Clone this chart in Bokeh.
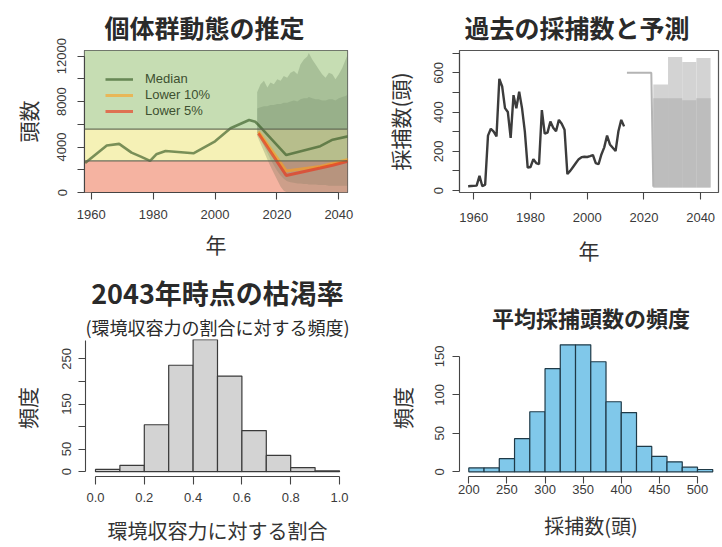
from bokeh.plotting import figure
from bokeh.models import Range1d, FixedTicker, BoxAnnotation, Span, Title, Legend, LegendItem
from bokeh.layouts import row, column
from bokeh.embed import file_html
from bokeh.resources import INLINE

# ---------------- data ----------------
# Population estimate (heads)
pop_years = [1958, 1965, 1969, 1973, 1976, 1979, 1981, 1984, 1993, 2000, 2005, 2011, 2013,
             2014, 2023, 2034, 2038, 2043]
pop_median = [2590, 4140, 4280, 3510, 3160, 2780, 3360, 3650, 3450, 4510, 5660, 6380, 6230,
              5950, 3300, 4080, 4650, 4940]
proj_years = [2014, 2023, 2034, 2038, 2043]
proj_low10 = [5370, 1900, 2300, 2550, 2900]
proj_low5 = [5200, 1500, 2150, 2400, 2750]
zone_limits = [0, 2790, 5580, 12500]

# Simulated trajectories: outer envelope and dense core
fan_years = [2013.6, 2014.7, 2015.8, 2016.9, 2017.9, 2019.0, 2020.1, 2021.2, 2022.2, 2023.3,
             2024.4, 2025.5, 2026.6, 2027.6, 2028.7, 2029.8, 2030.3, 2031.4, 2032.5, 2033.5,
             2034.6, 2035.7, 2036.8, 2037.9, 2038.9, 2040.0, 2041.1, 2042.2, 2042.8]
fan_high = [8820, 9540, 9830, 9250, 9680, 9540, 9970, 9830, 10260, 10110,
            10540, 10690, 10400, 11270, 11700, 11980, 12270, 11700, 11270, 10840,
            10400, 10110, 10540, 10400, 9970, 10400, 10970, 11700, 12130]
fan_low = [5000, 4300, 3600, 2900, 2300, 1700, 1100, 500, 150, 0,
           0, 0, 0, 0, 0, 0, 0, 0, 0, 0,
           0, 0, 0, 0, 0, 0, 0, 0, 0]
core_high = [7400, 7500, 7600, 7600, 7700, 7700, 7800, 7800, 7900, 7900,
             8000, 8100, 8000, 8200, 8300, 8300, 8400, 8300, 8200, 8200,
             8100, 8100, 8200, 8200, 8100, 8300, 8400, 8500, 8600]
core_low = [5300, 4700, 4100, 3500, 2900, 2400, 1900, 1500, 1200, 1000,
            900, 850, 800, 800, 750, 750, 700, 700, 700, 650,
            650, 650, 600, 600, 600, 600, 600, 600, 600]

# Catch history (heads)
catch_years = list(range(1958, 2014))
catch = [22, 23, 24, 25, 75, 22, 30, 280, 315, 300, 276, 569, 530, 420, 400, 268, 486, 419,
         503, 420, 300, 117, 120, 160, 140, 134, 410, 290, 295, 352, 320, 302, 360, 340, 310,
         84, 100, 120, 140, 160, 170, 172, 171, 175, 181, 140, 134, 184, 220, 280, 235, 218,
         201, 302, 360, 327]
quota_years = [2014, 2022.6, 2023.3]
quota = [600, 600, 20]
period_edges = [2023.3, 2028.5, 2033.5, 2038.5, 2043.5]
period_top = [540, 680, 655, 675]
period_core = [470, 470, 460, 470]
period_floor = [15, 15, 15, 15]

# Depletion in 2043 (fraction of carrying capacity)
dep_edges = [0.0, 0.1, 0.2, 0.3, 0.4, 0.5, 0.6, 0.7, 0.8, 0.9, 1.0]
dep_counts = [5, 14, 104, 236, 293, 212, 91, 36, 9, 2]

# Mean catch per simulation
mc_edges = [200, 220, 240, 260, 280, 300, 320, 340, 360, 380, 400, 420, 440, 460, 480, 500, 520]
mc_counts = [5, 5, 17, 43, 78, 134, 165, 165, 143, 91, 77, 33, 20, 13, 6, 3]

# ---------------- styling helpers ----------------
JP = "Noto Sans CJK JP"
NUM = "Liberation Sans"
AX = "#444444"


def make_fig(w, h, left, right, top, bottom, xr, yr):
    p = figure(width=w, height=h, x_range=Range1d(*xr), y_range=Range1d(*yr),
               output_backend="svg", toolbar_location=None,
               min_border_left=left, min_border_right=right,
               min_border_top=top, min_border_bottom=bottom)
    p.grid.visible = False
    p.background_fill_color = "white"
    p.border_fill_color = "white"
    p.outline_line_color = None
    return p


def style_axis(ax, ticks, bounds, tick_len, standoff, label, label_standoff,
               overrides=None, vertical=False, label_size="21px"):
    ax.ticker = FixedTicker(ticks=ticks)
    ax.bounds = bounds
    ax.minor_tick_line_color = None
    ax.major_tick_in = 0
    ax.major_tick_out = tick_len
    ax.axis_line_color = AX
    ax.axis_line_width = 1.1
    ax.major_tick_line_color = AX
    ax.major_tick_line_width = 1.1
    ax.major_label_text_font = NUM
    ax.major_label_text_font_size = "13px"
    ax.major_label_text_color = "#3a3a3a"
    ax.major_label_standoff = standoff
    if overrides:
        ax.major_label_overrides = overrides
    if vertical:
        ax.major_label_orientation = "vertical"
    ax.axis_label = label
    ax.axis_label_text_font = JP
    ax.axis_label_text_font_size = label_size
    ax.axis_label_text_font_style = "normal"
    ax.axis_label_text_color = "#333333"
    ax.axis_label_standoff = label_standoff


def add_title(p, text, size, standoff, align="center", offset=0, style="bold"):
    p.add_layout(Title(text=text, align=align, text_font=JP, text_font_size=size,
                       text_font_style=style, text_color="#2a2a2a",
                       standoff=standoff, offset=offset), "above")


# ---------------- panel 1: population ----------------
p1 = make_fig(361, 270, 84, 14, 49, 76, (1957.8, 2042.8), (0, 12500))
zone_colors = ["#f5b3a1", "#f5f1b6", "#c6ddb3"]
for lo, hi, c in zip(zone_limits[:-1], zone_limits[1:], zone_colors):
    p1.add_layout(BoxAnnotation(bottom=lo, top=hi, fill_color=c, fill_alpha=1.0,
                                line_color=None, level="underlay"))
p1.varea(x=fan_years, y1=fan_low, y2=fan_high, fill_color="#3f5a3a", fill_alpha=0.22)
p1.varea(x=fan_years, y1=core_low, y2=core_high, fill_color="#3f5a3a", fill_alpha=0.15)
for lim in zone_limits[1:3]:
    p1.add_layout(Span(location=lim, dimension="width", line_color="#5c6450",
                       line_width=1.3, line_alpha=0.9))
r_med = p1.line(pop_years, pop_median, line_color="#355a25", line_alpha=0.65, line_width=2.6)
r10 = p1.line(proj_years, proj_low10, line_color="#ff9f1a", line_alpha=0.6, line_width=3)
r5 = p1.line(proj_years, proj_low5, line_color="#ee2a10", line_alpha=0.6, line_width=3)
p1.outline_line_color = "#555555"
p1.outline_line_width = 1.2
legend = Legend(items=[LegendItem(label="Median", renderers=[r_med]),
                       LegendItem(label="Lower 10%", renderers=[r10]),
                       LegendItem(label="Lower 5%", renderers=[r5])],
                location="top_left", margin=0, padding=21, spacing=1,
                glyph_width=28, glyph_height=14, label_height=14, label_standoff=12,
                label_text_font=NUM, label_text_font_size="13px",
                label_text_color="#3d5030", background_fill_alpha=0, border_line_alpha=0)
p1.add_layout(legend)
style_axis(p1.yaxis[0], list(range(0, 12001, 2000)), (0, 12000), 7, 11, "頭数", 12,
           overrides={2000: "", 6000: "", 10000: ""}, vertical=True)
style_axis(p1.xaxis[0], [1960, 1980, 2000, 2020, 2040], (1960, 2040), 7, 10, "年", 7)
add_title(p1, "個体群動態の推定", "25px", 12, align="left", offset=20)

# ---------------- panel 2: catch ----------------
p2 = make_fig(361, 270, 98, 4, 48, 78, (1954.95, 2046.3), (-10, 713.6))
p2.quad(left=period_edges[:-1], right=period_edges[1:], bottom=period_floor, top=period_top,
        fill_color="#d3d3d3", line_color=None)
p2.quad(left=period_edges[:-1], right=period_edges[1:], bottom=period_floor, top=period_core,
        fill_color="#bdbdbd", line_color=None)
p2.line(quota_years, quota, line_color="#b4b4b4", line_width=2)
p2.line(catch_years, catch, line_color="#3c3c3c", line_width=2.4)
p2.outline_line_color = "#555555"
p2.outline_line_width = 1.2
style_axis(p2.yaxis[0], list(range(0, 701, 100)), (0, 700), 7, 9, "採捕数(頭)", 17,
           overrides={100: "", 300: "", 500: "", 700: ""}, vertical=True)
style_axis(p2.xaxis[0], [1960, 1980, 2000, 2020, 2040], (1960, 2040), 7, 13, "年", 10)
add_title(p2, "過去の採捕数と予測", "25px", 12, align="left", offset=5)

# ---------------- panel 3: depletion histogram ----------------
p3 = make_fig(361, 277, 85, 12, 68, 68, (-0.041, 1.041), (-10.8, 293.1))
p3.quad(left=dep_edges[:-1], right=dep_edges[1:], bottom=0, top=dep_counts,
        fill_color="#d3d3d3", line_color="#3a3a3a", line_width=1.2)
style_axis(p3.yaxis[0], [0, 50, 100, 150, 200, 250], (0, 290), 7, 7, "頻度", 18,
           overrides={100: "", 200: ""}, vertical=True)
style_axis(p3.xaxis[0], [0.0, 0.2, 0.4, 0.6, 0.8, 1.0], (0.0, 1.0), 8, 8,
           "環境収容力に対する割合", 11, label_size="20px")
p3.xaxis[0].major_label_overrides = {0.0: "0.0", 0.2: "0.2", 0.4: "0.4", 0.6: "0.6",
                                     0.8: "0.8", 1.0: "1.0"}
add_title(p3, "(環境収容力の割合に対する頻度)", "18px", 0, offset=4, style="normal")
add_title(p3, "2043年時点の枯渇率", "27px", 0)

# ---------------- panel 4: mean catch histogram ----------------
p4 = make_fig(361, 277, 98, 0, 63, 68, (187.8, 532.8), (-6.1, 171.9))
p4.quad(left=mc_edges[:-1], right=mc_edges[1:], bottom=0, top=mc_counts,
        fill_color="#80c8ea", line_color="#1f3a48", line_width=1.2)
style_axis(p4.yaxis[0], [0, 50, 100, 150], (0, 150), 7, 8, "頻度", 16, vertical=True)
style_axis(p4.xaxis[0], [200, 250, 300, 350, 400, 450, 500], (200, 500), 7, 1,
           "採捕数(頭)", 14, label_size="20px")
add_title(p4, "平均採捕頭数の頻度", "22px", 14)

layout = column(row(p1, p2), row(p3, p4))
with open("out.html", "w") as f:
    f.write(file_html(layout, INLINE))
